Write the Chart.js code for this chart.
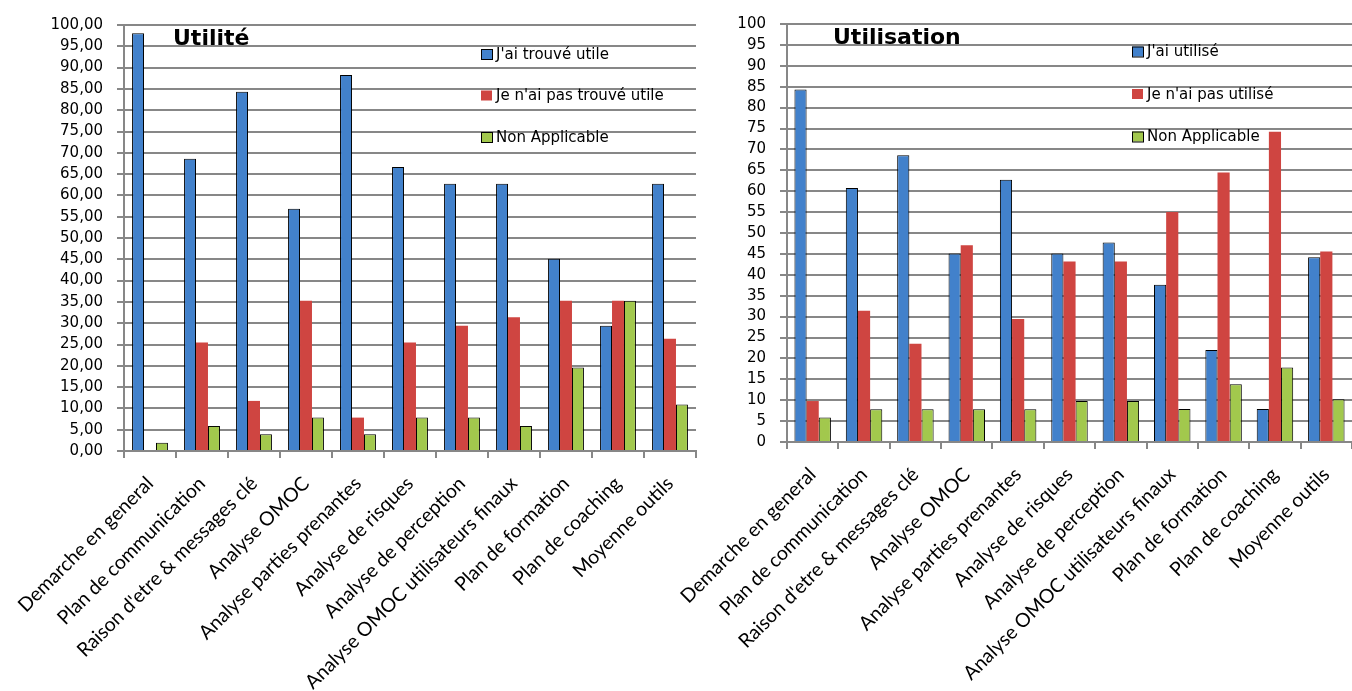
<!DOCTYPE html>
<html lang="fr">
<head>
<meta charset="UTF-8">
<title>Utilité / Utilisation</title>
<script src="https://cdn.jsdelivr.net/npm/chart.js"></script>
<style>
  html, body { margin: 0; padding: 0; background: #fff; }
  .wrap { position: relative; width: 1352px; height: 691px; }
  .wrap canvas { position: absolute; left: 0; top: 0; }
</style>
</head>
<body>
<div class="wrap">
  <canvas id="chartUtilite" width="1352" height="691"></canvas>
  <canvas id="chartUtilisation" width="1352" height="691"></canvas>
</div>
<script>
// categories (axe x, communs aux deux graphes)
const categories = [
  "Demarche en general", "Plan de communication", "Raison d'etre & messages clé",
  "Analyse OMOC", "Analyse parties prenantes", "Analyse de risques",
  "Analyse de perception", "Analyse OMOC utilisateurs finaux", "Plan de formation",
  "Plan de coaching", "Moyenne outils"
];

// Graphe 1 : Utilité (%)
const utiliteLabels = ["J'ai trouvé utile", "Je n'ai pas trouvé utile", "Non Applicable"];
const utiliteTrouve    = [98.04, 68.63, 84.31, 56.86, 88.24, 66.67, 62.75, 62.75, 45.10, 29.41, 62.75];
const utilitePasTrouve = [0.00, 25.49, 11.76, 35.29, 7.84, 25.49, 29.41, 31.37, 35.29, 35.29, 26.36];
const utiliteNA        = [1.96, 5.88, 3.92, 7.84, 3.92, 7.84, 7.84, 5.88, 19.61, 35.29, 10.89];

// Graphe 2 : Utilisation (%)
const utilisationLabels = ["J'ai utilisé", "Je n'ai pas utilisé", "Non Applicable"];
const utilisationOui = [84.31, 60.78, 68.63, 45.10, 62.75, 45.10, 47.70, 37.60, 22.00, 7.90, 44.20];
const utilisationNon = [9.80, 31.37, 23.53, 47.06, 29.41, 43.20, 43.20, 55.00, 64.50, 74.20, 45.60];
const utilisationNA  = [5.88, 7.84, 7.84, 7.84, 7.84, 9.80, 9.80, 7.90, 13.80, 17.80, 10.20];

// axe y : 0 -> 100 par pas de 5
const yMin = 0, yMax = 100, yStep = 5;

const BLEU = '#4281CB', ROUGE = '#CF4541', VERT = '#A2C84D';
const GRIS = '#878787';

// titre + légende dessinés dans la zone du graphe (comme Excel)
const insideDeco = {
  id: 'insideDeco',
  afterDatasetsDraw(chart, args, opts) {
    const ctx = chart.ctx, a = chart.chartArea;
    ctx.save();
    // titre
    ctx.font = 'bold 22px "DejaVu Sans"';
    ctx.fillStyle = '#000';
    ctx.textBaseline = 'alphabetic';
    ctx.textAlign = 'left';
    ctx.fillText(opts.title, a.left + opts.titleX, a.top + opts.titleY);
    // légende
    ctx.font = '15px "DejaVu Sans"';
    ctx.textBaseline = 'middle';
    chart.data.datasets.forEach((ds, i) => {
      const bx = a.left + opts.legendX;
      const cy = a.top + opts.legendY + i * opts.legendGap;
      ctx.fillStyle = ds.backgroundColor;
      ctx.fillRect(bx, cy - 5, 11, 10);
      if (ds.borderWidth) {
        ctx.strokeStyle = '#000';
        ctx.lineWidth = 1;
        ctx.strokeRect(bx + 0.5, cy - 4.5, 11, 10);
      }
      ctx.fillStyle = '#000';
      ctx.fillText(ds.label, bx + 15, cy + 1);
    });
    ctx.restore();
  }
};

function makeDatasets(labels, a, b, c) {
  return [
    { label: labels[0], data: a, backgroundColor: BLEU, borderColor: '#000', borderWidth: 1 },
    { label: labels[1], data: b, backgroundColor: ROUGE, borderWidth: 0 },
    { label: labels[2], data: c, backgroundColor: VERT, borderColor: '#000', borderWidth: 1 }
  ];
}

function makeChart(id, datasets, o) {
  return new Chart(document.getElementById(id), {
    type: 'bar',
    data: { labels: categories, datasets: datasets },
    plugins: [insideDeco],
    options: {
      responsive: false,
      animation: false,
      events: [],
      layout: { padding: o.padding },
      datasets: { bar: { categoryPercentage: o.catPct, barPercentage: 1.0 } },
      plugins: {
        legend: { display: false },
        tooltip: { enabled: false },
        insideDeco: o.deco
      },
      scales: {
        x: {
          grid: { display: true, drawOnChartArea: false, drawTicks: true, tickLength: 7, color: GRIS, lineWidth: 2 },
          border: { display: true, color: GRIS, width: 2 },
          ticks: {
            autoSkip: false, minRotation: 45, maxRotation: 45, padding: 14,
            color: '#000', font: { family: 'Lato', size: 19.5 }
          },
          afterFit(s) { s.height = o.xHeight; s.paddingLeft = 0; s.paddingRight = 0; }
        },
        y: {
          min: yMin, max: yMax,
          grid: { color: GRIS, lineWidth: 2, tickLength: 7 },
          border: { display: true, color: GRIS, width: 2 },
          ticks: {
            stepSize: yStep, autoSkip: false, padding: 14, color: '#000',
            font: { family: 'DejaVu Sans', size: 15 },
            callback: o.fmt
          },
          afterFit(s) { s.width = o.yWidth; s.paddingTop = 0; s.paddingBottom = 0; }
        }
      }
    }
  });
}

makeChart('chartUtilite',
  makeDatasets(utiliteLabels, utiliteTrouve, utilitePasTrouve, utiliteNA),
  {
    padding: { left: 0, top: 25, right: 656, bottom: 0 },
    yWidth: 124, xHeight: 240, catPct: 0.69,
    fmt: v => v.toFixed(2).replace('.', ','),
    deco: { title: 'Utilité', titleX: 49, titleY: 20, legendX: 357, legendY: 29, legendGap: 41.5 }
  });

makeChart('chartUtilisation',
  makeDatasets(utilisationLabels, utilisationOui, utilisationNon, utilisationNA),
  {
    padding: { left: 700, top: 24, right: 0, bottom: 0 },
    yWidth: 87, xHeight: 249, catPct: 0.71,
    fmt: v => String(v),
    deco: { title: 'Utilisation', titleX: 46, titleY: 20, legendX: 345, legendY: 27.5, legendGap: 42.5 }
  });
</script>
</body>
</html>
